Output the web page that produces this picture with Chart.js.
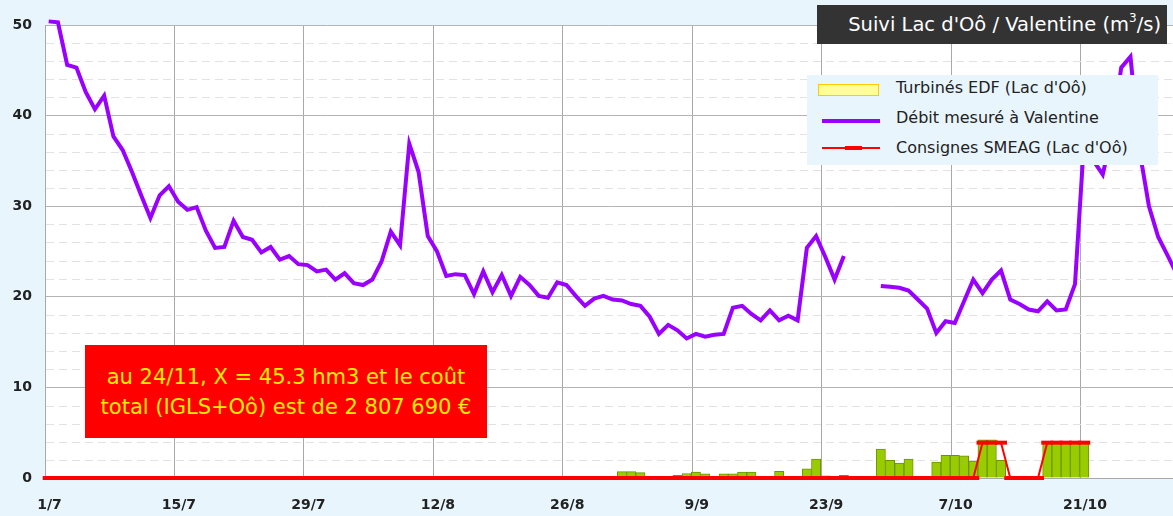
<!DOCTYPE html>
<html>
<head>
<meta charset="utf-8">
<script src="https://cdn.jsdelivr.net/npm/chart.js@4/dist/chart.umd.min.js"></script>
<style>
  html, body { margin:0; padding:0; background:#e8f5fd; }
  #wrap { position:relative; width:1173px; height:516px; overflow:hidden; background:#e8f5fd; }
  canvas { position:absolute; left:0; top:0; }
  #title { position:absolute; left:817px; top:5px; width:350px; height:39px; background:#333333;
           color:#ffffff; font-family:"DejaVu Sans", sans-serif; font-size:19.5px; line-height:39px;
           text-align:right; box-sizing:border-box; padding-right:6px; white-space:nowrap; }
  #title sup { font-size:12px; vertical-align:9px; line-height:0; }
  #legend { position:absolute; left:807px; top:75px; width:351px; height:90px; background:#e8f5fd;
            font-family:"DejaVu Sans", sans-serif; font-size:16px; color:#222; }
  .lt { position:absolute; left:89px; white-space:nowrap; line-height:20px; }
  .ic { position:absolute; }
  #note { position:absolute; left:85px; top:345px; width:402px; height:93px; background:#ff0000;
          color:#ffee00; font-family:"DejaVu Sans", sans-serif; font-size:21px; line-height:30px;
          display:flex; flex-direction:column; justify-content:center; align-items:center; white-space:nowrap; }
</style>
</head>
<body>
<div id="wrap">
  <canvas id="c" width="1173" height="516"></canvas>
  <div id="title">Suivi Lac d'Oô / Valentine (m<sup>3</sup>/s)</div>
  <div id="legend">
    <div class="ic" style="left:11px;top:9px;width:59px;height:10px;background:#ffff99;border:1.5px solid #ffcc00;"></div>
    <div class="lt" style="top:3px;">Turbinés EDF (Lac d'Oô)</div>
    <div class="ic" style="left:15px;top:44px;width:58px;height:4px;background:#9900ff;"></div>
    <div class="lt" style="top:33px;">Débit mesuré à Valentine</div>
    <div class="ic" style="left:15px;top:72px;width:58px;height:2px;background:#ff0000;"></div>
    <div class="ic" style="left:38px;top:71px;width:17px;height:4px;background:#ff0000;"></div>
    <div class="lt" style="top:63px;">Consignes SMEAG (Lac d'Oô)</div>
  </div>
  <div id="note"><div>au 24/11, X = 45.3 hm3 et le coût</div><div>total (IGLS+Oô) est de 2 807 690 €</div></div>
</div>
<script>
// Tick labels (every 14 days starting 1/7)
const tickLabels = ['1/7','15/7','29/7','12/8','26/8','9/9','23/9','7/10','21/10'];

// Débit mesuré à Valentine (m3/s), one value per day from 1/7
const debitValentine = [
  50.4, 50.3, 45.6, 45.3, 42.6, 40.7, 42.2, 37.7, 36.2, 33.8,
  31.2, 28.7, 31.2, 32.2, 30.5, 29.6, 29.9, 27.3, 25.4, 25.5,
  28.4, 26.6, 26.3, 24.9, 25.5, 24.1, 24.5, 23.6, 23.5, 22.8,
  23.0, 21.9, 22.6, 21.5, 21.3, 21.9, 23.9, 27.2, 25.7, 36.9,
  33.8, 26.7, 25.0, 22.3, 22.5, 22.4, 20.3, 22.8, 20.5, 22.4,
  20.1, 22.2, 21.3, 20.1, 19.9, 21.6, 21.3, 20.1, 19.0, 19.8,
  20.1, 19.7, 19.6, 19.2, 19.0, 17.8, 15.9, 16.9, 16.3, 15.4,
  15.9, 15.6, 15.8, 15.9, 18.8, 19.0, 18.1, 17.4, 18.5, 17.4,
  17.9, 17.4, 25.4, 26.7, 24.4, 21.9, 24.5, null, null, null,
  21.2, 21.1, 21.0, 20.7, 19.7, 18.7, 16.0, 17.3, 17.1, 19.5,
  21.9, 20.4, 21.9, 22.9, 19.7, 19.2, 18.6, 18.4, 19.5, 18.5,
  18.6, 21.4, 37.5, 35.0, 33.5, 38.0, 45.3, 46.5, 36.0, 30.0,
  26.6, 24.6, 22.5
];

// Turbinés EDF (Lac d'Oô), one value per day from 1/7 (null = none)
const turbinesEDF = [
  null, null, null, null, null, null, null, null, null, null,
  null, null, null, null, null, null, null, null, null, null,
  null, null, null, null, null, null, null, null, null, null,
  null, null, null, null, null, null, null, null, null, null,
  null, null, null, null, null, null, null, null, null, null,
  null, null, null, null, null, null, null, null, null, null,
  null, null, 0.7, 0.7, 0.6, null, null, null, 0.3, 0.5,
  0.65, 0.45, null, 0.45, 0.45, 0.65, 0.65, null, null, 0.75,
  null, null, 1.0, 2.1, 0.25, null, 0.3, null, null, null,
  3.2, 1.95, 1.65, 2.1, null, null, 1.77, 2.5, 2.5, 2.45,
  1.88, 4.2, 4.2, 1.95, null, null, null, null, 3.9, 3.9,
  3.9, 3.9, 3.9
];

// Consignes SMEAG (Lac d'Oô), one value per day from 1/7
const consignesSMEAG = [
  0, 0, 0, 0, 0, 0, 0, 0, 0, 0,
  0, 0, 0, 0, 0, 0, 0, 0, 0, 0,
  0, 0, 0, 0, 0, 0, 0, 0, 0, 0,
  0, 0, 0, 0, 0, 0, 0, 0, 0, 0,
  0, 0, 0, 0, 0, 0, 0, 0, 0, 0,
  0, 0, 0, 0, 0, 0, 0, 0, 0, 0,
  0, 0, 0, 0, 0, 0, 0, 0, 0, 0,
  0, 0, 0, 0, 0, 0, 0, 0, 0, 0,
  0, 0, 0, 0, 0, 0, 0, 0, 0, 0,
  0, 0, 0, 0, 0, 0, 0, 0, 0, 0,
  0, 3.9, 3.9, 3.9, 0, 0, 0, 0, 3.9, 3.9,
  3.9, 3.9, 3.9
];

const DAY_OFFSET = 0.4;
const toXY = arr => arr.map((v, i) => ({ x: i + DAY_OFFSET, y: v }));
const toBars = arr => arr.map((v, i) => ({ x: i + DAY_OFFSET, y: v })).filter(p => p.y !== null);

const bgPlugin = {
  id: 'bg',
  beforeDraw(chart) {
    const { ctx, chartArea: a } = chart;
    ctx.save();
    ctx.fillStyle = '#ffffff';
    ctx.fillRect(a.left, a.top, a.right - a.left, a.bottom - a.top);
    ctx.restore();
  },
  beforeDatasetsDraw(chart) {
    const { ctx, chartArea: a, scales } = chart;
    const y = scales.y;
    ctx.save();
    ctx.strokeStyle = '#e2e2e2';
    ctx.lineWidth = 1;
    ctx.setLineDash([8, 5]);
    for (let v = 2; v < 50; v += 2) {
      if (v % 10 === 0) continue;
      const py = Math.round(y.getPixelForValue(v)) + 0.5;
      ctx.beginPath();
      ctx.moveTo(a.left + 1, py);
      ctx.lineTo(a.right, py);
      ctx.stroke();
    }
    ctx.restore();
  }
};

new Chart(document.getElementById('c'), {
  type: 'line',
  data: {
    datasets: [
      {
        type: 'line',
        label: 'Débit mesuré à Valentine',
        data: toXY(debitValentine),
        borderColor: '#9900ff',
        borderWidth: 4,
        pointRadius: 0,
        tension: 0,
        spanGaps: false,
        clip: false,
        order: 1
      },
      {
        type: 'line',
        label: 'Consignes SMEAG (Lac d\'Oô)',
        data: toXY(consignesSMEAG),
        borderColor: '#ff0000',
        borderWidth: 2,
        pointStyle: 'line',
        pointRadius: 6,
        pointBorderWidth: 4,
        pointBorderColor: '#ff0000',
        pointBackgroundColor: '#ff0000',
        tension: 0,
        clip: false,
        order: 2
      },
      {
        type: 'bar',
        label: 'Turbinés EDF (Lac d\'Oô)',
        data: toBars(turbinesEDF),
        backgroundColor: '#99cc00',
        borderColor: '#6e9400',
        borderWidth: 1,
        barPercentage: 1,
        categoryPercentage: 1,
        grouped: false,
        order: 3
      }
    ]
  },
  options: {
    responsive: false,
    animation: false,
    events: [],
    layout: { autoPadding: false, padding: { left: 0, right: 0, top: 25, bottom: 0 } },
    plugins: { legend: { display: false }, tooltip: { enabled: false } },
    scales: {
      x: {
        type: 'linear',
        min: 0,
        max: 122,
        offset: false,
        afterBuildTicks: s => { s.ticks = tickLabels.map((_, k) => ({ value: k * 14 })); },
        afterFit: s => { s.height = 38; s.paddingLeft = 0; s.paddingRight = 0; },
        ticks: {
          autoSkip: false,
          maxRotation: 0,
          padding: 19,
          labelOffset: 4.5,
          color: '#222',
          font: { family: 'DejaVu Sans', size: 14, weight: 'bold' },
          callback: v => tickLabels[Math.round(v / 14)]
        },
        grid: { color: '#a8a8a8', lineWidth: 1, drawTicks: false, offset: false },
        border: { display: true, color: '#a8a8a8' }
      },
      y: {
        min: 0,
        max: 50,
        afterFit: s => { s.width = 45; },
        ticks: {
          stepSize: 10,
          padding: 13,
          color: '#222',
          font: { family: 'DejaVu Sans', size: 14, weight: 'bold' }
        },
        grid: { color: '#b4b4b4', lineWidth: 1, drawTicks: false, offset: false },
        border: { display: true, color: '#a8a8a8' }
      }
    }
  },
  plugins: [bgPlugin]
});
</script>
</body>
</html>
